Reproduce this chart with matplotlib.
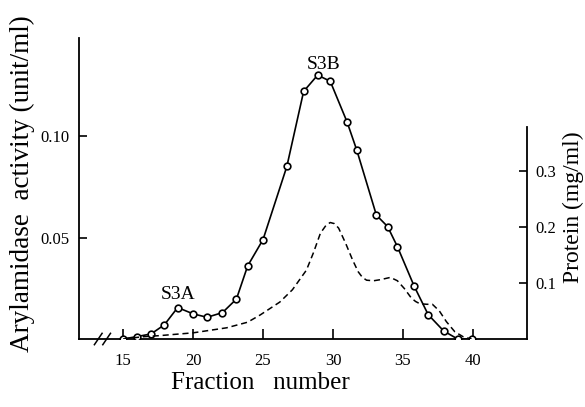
import matplotlib.pyplot as plt
import numpy as np

# Arylamidase activity (open circles, left axis)
act_frac = [15, 16, 17, 17.95, 18.9, 20, 21, 22.1, 23.1, 23.9, 25,
            26.7, 27.9, 28.9, 29.8, 31.0, 31.7, 33.1, 33.9, 34.6,
            35.8, 36.8, 37.9, 38.9, 39.9]
activity = [0.0, 0.0012, 0.0025, 0.007, 0.0155, 0.0124, 0.0107, 0.013, 0.0197, 0.036, 0.049,
            0.085, 0.122, 0.130, 0.127, 0.107, 0.093, 0.061, 0.0554, 0.0455,
            0.026, 0.012, 0.004, 0.0, 0.0]

# protein (dashed, right axis)
prot_frac = [15, 16.4, 17.6, 20, 22.4, 23.9, 24.8, 26.2, 27.1, 28.1, 28.6, 29.1, 29.5,
             29.8, 30.1, 30.4, 30.9, 31.4, 31.8, 32.1, 32.4, 32.9, 33.4, 34.1, 34.6, 35.1,
             35.6, 35.9, 36.2, 36.7, 37.1, 37.6, 38.1, 38.7, 39.3, 39.9]
protein = [0.0, 0.004, 0.006, 0.011, 0.02, 0.03, 0.043, 0.066, 0.088, 0.123, 0.154, 0.189, 0.203,
           0.208, 0.206, 0.198, 0.171, 0.141, 0.120, 0.110, 0.105, 0.104, 0.106, 0.110, 0.104, 0.090,
           0.073, 0.067, 0.063, 0.062, 0.062, 0.050, 0.031, 0.013, 0.004, 0.0]

xticks = [15, 20, 25, 30, 35, 40]
left_ticks = [0.05, 0.10]
left_labels = ['0.05', '0.10']
right_ticks = [0.1, 0.2, 0.3]
right_labels = ['0.1', '0.2', '0.3']

plt.rcParams['font.family'] = ['Liberation Serif', 'DejaVu Serif']

fig = plt.figure(figsize=(5.85, 4.07), dpi=100)
ax = fig.add_axes([79/585, 68/407, 448/585, 301/407])
ax2 = ax.twinx()

ax.plot(act_frac, activity, color='black', lw=1.2, marker='o', ms=4.8,
        mfc='white', mec='black', mew=1.2, zorder=3)
ax2.plot(prot_frac, protein, color='black', lw=1.1, ls=(0, (4, 2.5)))

ax.set_xlim(11.85, 43.86)
ax.set_ylim(0, 0.1483)
ax2.set_ylim(0, 0.5375)

for a in (ax, ax2):
    a.spines['top'].set_visible(False)
ax2.spines['left'].set_visible(False)
ax.spines['right'].set_visible(False)
ax2.spines['bottom'].set_visible(False)
ax2.spines['right'].set_bounds(0, 0.378)
for s in ('left', 'bottom'):
    ax.spines[s].set_linewidth(1.3)
ax2.spines['right'].set_linewidth(1.3)

ax.set_xticks(xticks)
ax.set_xticklabels([str(t) for t in xticks])
ax.set_yticks(left_ticks)
ax.set_yticklabels(left_labels)
ax2.set_yticks(right_ticks)
ax2.set_yticklabels(right_labels)
ax.tick_params(axis='x', direction='in', length=7, width=1.2, pad=10, labelsize=12)
ax.tick_params(axis='y', direction='in', length=6, width=1.2, pad=7, labelsize=12)
ax2.tick_params(axis='y', direction='in', length=6, width=1.2, pad=6, labelsize=12)

# axis break marks
for dx in (-0.3, 0.3):
    ax.plot([13.25 + dx, 13.8 + dx], [-0.0028, 0.0028], color='black', lw=1.1, clip_on=False)

ax.text(18.9, 0.0175, 'S3A', ha='center', va='bottom', fontsize=14)
ax.text(29.3, 0.131, 'S3B', ha='center', va='bottom', fontsize=14)

fig.text(22/585, 0.55, 'Arylamidase  activity (unit/ml)', rotation=90,
         ha='center', va='center', fontsize=19.5)
fig.text(573/585, 0.49, 'Protein (mg/ml)', rotation=90,
         ha='center', va='center', fontsize=17)
fig.text(260/585, 24/407, 'Fraction   number', ha='center', va='center', fontsize=18)

fig.savefig('out.png', dpi=100)
